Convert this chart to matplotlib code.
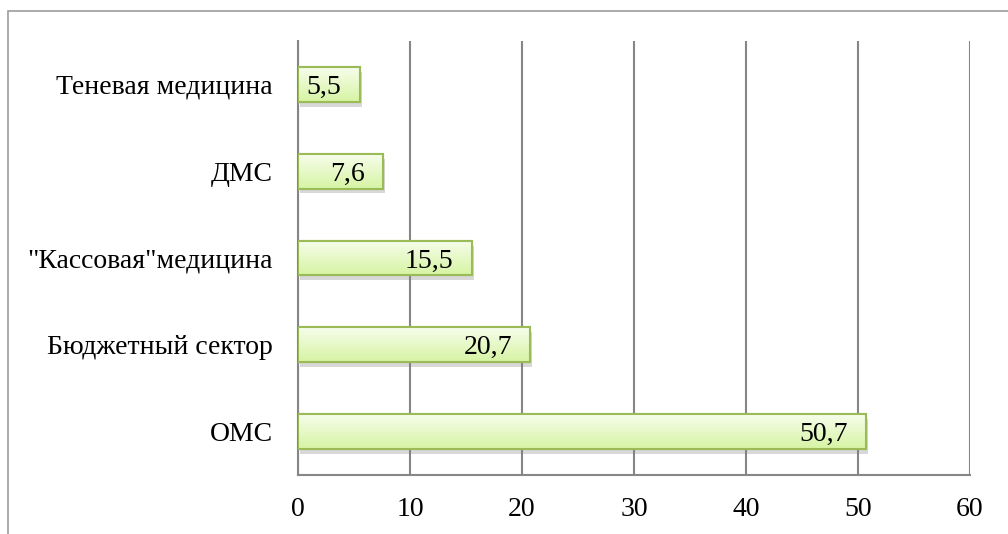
import numpy as np
import matplotlib
matplotlib.use('Agg')
import matplotlib.pyplot as plt
import matplotlib.patheffects as pe
from matplotlib.patches import Rectangle

# данные с картинки
categories = ['ОМС', 'Бюджетный сектор', '"Кассовая"медицина', 'ДМС', 'Теневая медицина']
values = [50.7, 20.7, 15.5, 7.6, 5.5]
labels = ['50,7', '20,7', '15,5', '7,6', '5,5']
xticks = [0, 10, 20, 30, 40, 50, 60]

plt.rcParams['font.family'] = ['Liberation Serif', 'DejaVu Serif']

fig = plt.figure(figsize=(10.08, 5.34), dpi=100)
ax = fig.add_axes([298 / 1008, 59 / 534, 672 / 1008, 434 / 534])

# рамка всей диаграммы (видна только слева и сверху)
fig.patches.append(Rectangle((8 / 1008, -0.5), 1.2, 0.5 + 523 / 534,
                             transform=fig.transFigure, fill=False,
                             edgecolor='#9c9c9c', linewidth=1.2))

y = np.arange(len(categories))
bars = ax.barh(y, values, height=0.4, color='#e6f7c8', edgecolor='#9bbb59',
               linewidth=1.5, zorder=3)

# градиент и тень
grad = np.linspace(0, 1, 100).reshape(-1, 1)
cmap = matplotlib.colors.LinearSegmentedColormap.from_list('g', ['#d6f4a3', '#f7fdec'])
for b in bars:
    b.set_path_effects([pe.SimplePatchShadow(offset=(1.5, -3.5), shadow_rgbFace='#7f7f7f', alpha=0.3),
                        pe.Normal()])
    x0, y0, w, h = b.get_x(), b.get_y(), b.get_width(), b.get_height()
    im = ax.imshow(grad, extent=[x0, x0 + w, y0, y0 + h], origin='lower', cmap=cmap,
                   aspect='auto', zorder=3.5)
    im.set_clip_path(b)
    ax.add_patch(Rectangle((x0, y0), w, h, fill=False, edgecolor='#9bbb59', linewidth=1.5, zorder=4))

for b, lab in zip(bars, labels):
    ax.annotate(lab, (b.get_width(), b.get_y() + b.get_height() / 2),
                xytext=(-13, 0), textcoords='offset points', ha='right', va='center_baseline',
                fontsize=20, zorder=5)

ax.set_xlim(0, 60)
ax.set_ylim(-0.5, len(categories) - 0.5)
ax.set_xticks(xticks)
ax.set_yticks(y)
ax.set_yticklabels(categories)
ax.tick_params(axis='both', length=0, labelsize=20)
ax.tick_params(axis='y', pad=18)
ax.tick_params(axis='x', pad=16)
ax.grid(axis='x', color='#868686', linewidth=1.5, zorder=0)
ax.set_axisbelow(True)
for s in ['top', 'right']:
    ax.spines[s].set_visible(False)
for s in ['left', 'bottom']:
    ax.spines[s].set_color('#868686')
    ax.spines[s].set_linewidth(1.5)

fig.savefig('out.png', dpi=100)
